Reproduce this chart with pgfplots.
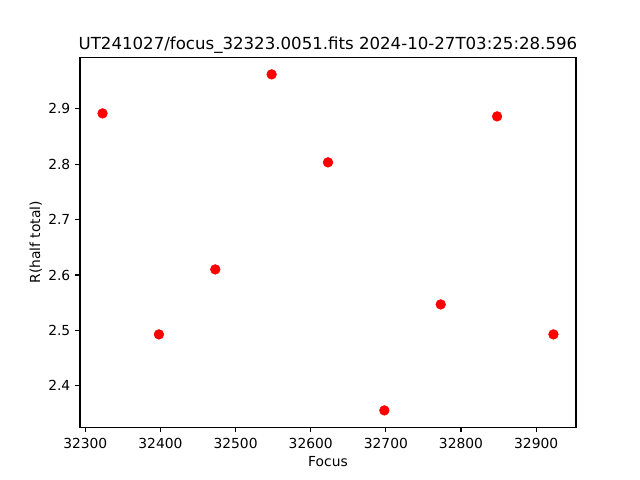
\documentclass[border=0pt]{standalone}
\usepackage{pgfplots}
\pgfplotsset{compat=1.18}
\usepackage{fontspec}
\setmainfont{DejaVu Sans}
\begin{document}
\begin{tikzpicture}
\path[use as bounding box] (0,0) rectangle (6.4in,4.8in);
\begin{axis}[
  at={(0.8in,0.528in)}, anchor=south west,
  scale only axis, width=4.96in, height=3.696in,
  xmin=32293, xmax=32953, ymin=2.3253, ymax=2.9924,
  xtick={32300,32400,32500,32600,32700,32800,32900},
  ytick={2.4,2.5,2.6,2.7,2.8,2.9},
  tick pos=left, tick align=outside, major tick length=3.5pt,
  tick style={line width=0.8pt, black},
  axis line style={line width=0.8pt},
  scaled ticks=false,
  /pgf/number format/assume math mode=true,
  xticklabel style={/pgf/number format/1000 sep={}, yshift=-1pt},
  yticklabel style={/pgf/number format/fixed, /pgf/number format/precision=1, /pgf/number format/fixed zerofill},
  font=\fontsize{10}{12}\selectfont,
  title={UT241027/focus\_32323.0051.fits 2024-10-27T03:25:28.596},
  title style={font=\fontsize{12}{14}\selectfont, at={(axis description cs:0.5,1)}, anchor=base},
  xlabel={Focus},
  xlabel style={at={(axis description cs:0.5,0)}, anchor=center, yshift=-25pt},
  ylabel={R(half total)},
  ylabel style={at={([xshift=-32pt]axis description cs:0,0.5)}, anchor=center},
]
\addplot[only marks, mark=*, mark size=3.5pt, color=red, mark options={fill=red, draw=red}]
coordinates {
(32323,2.8917)
(32398,2.4928)
(32473,2.6101)
(32548,2.9621)
(32623,2.8033)
(32698,2.3556)
(32773,2.5469)
(32848,2.8863)
(32923,2.4928)
};
\end{axis}
\end{tikzpicture}
\end{document}
